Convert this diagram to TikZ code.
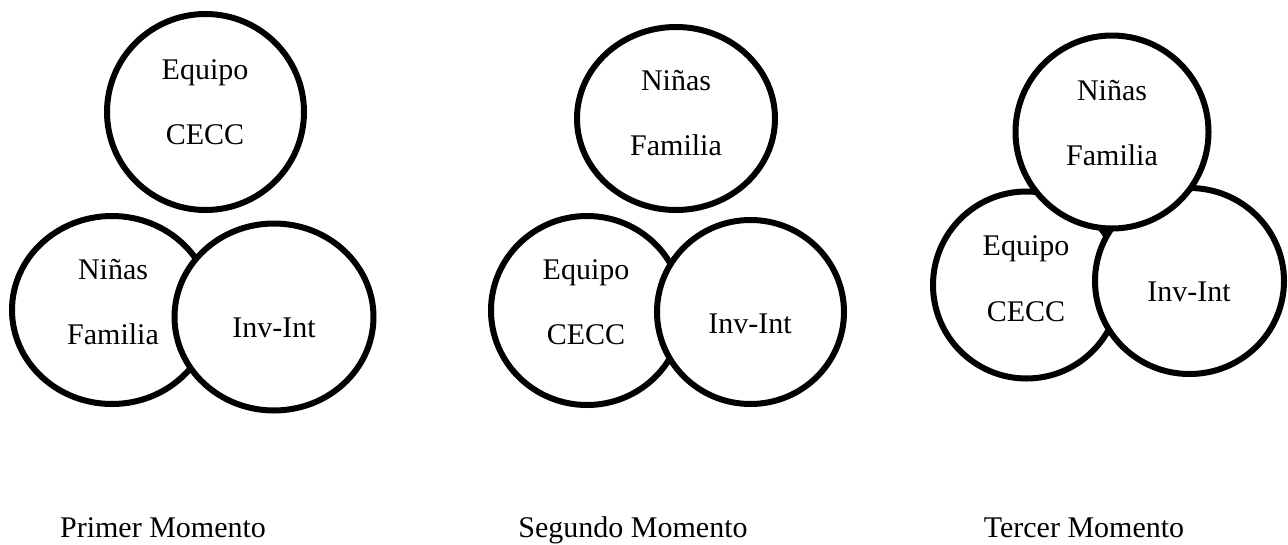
\documentclass[tikz,border=0pt]{standalone}
\usepackage{fontspec}
\setmainfont{Liberation Serif}
\usetikzlibrary{shapes.geometric}
\tikzset{
  ring/.style={shape=ellipse, draw=black, fill=white, line width=6pt, inner sep=0pt, outer sep=0pt},
  lbl/.style={font=\fontsize{30}{36}\selectfont, inner sep=0pt, anchor=base}
}
\begin{document}
\begin{tikzpicture}[x=1pt,y=-1pt]
\useasboundingbox[fill=white] (0,0) rectangle (1288,544);
% ---- Primer momento
\node[ring, minimum width=197pt, minimum height=196pt] (a1) at (205.5,112) {};
\node[ring, minimum width=200pt, minimum height=188pt] (a2) at (112,310) {};
\node[ring, minimum width=199pt, minimum height=187pt] (a3) at (274,317) {};
\node[lbl] (a1t) at (205,79) {Equipo};
\node[lbl] (a1b) at (205,144) {CECC};
\node[lbl] (a2t) at (113,279) {Niñas};
\node[lbl] (a2b) at (113,344) {Familia};
\node[lbl] (a3t) at (274,337) {Inv-Int};
\node[lbl] (m1) at (163,537) {Primer Momento};
% ---- Segundo momento
\node[ring, minimum width=198pt, minimum height=183pt] (b1) at (676,118.5) {};
\node[ring, minimum width=192pt, minimum height=189pt] (b2) at (587,310.5) {};
\node[ring, minimum width=187pt, minimum height=184pt] (b3) at (750.5,312) {};
\node[lbl] (b1t) at (676,90) {Niñas};
\node[lbl] (b1b) at (676,155) {Familia};
\node[lbl] (b2t) at (586,279) {Equipo};
\node[lbl] (b2b) at (586,344) {CECC};
\node[lbl] (b3t) at (750,333) {Inv-Int};
\node[lbl] (m2) at (633,537) {Segundo Momento};
% ---- Tercer momento
\node[ring, minimum width=187pt, minimum height=187pt] (c2) at (1026.5,285) {};
\node[ring, minimum width=189pt, minimum height=186pt] (c3) at (1189.5,281) {};
\node[ring, minimum width=193pt, minimum height=193pt] (c1) at (1112,132) {};
\node[lbl] (c1t) at (1112,100) {Niñas};
\node[lbl] (c1b) at (1112,165) {Familia};
\node[lbl] (c2t) at (1026,255) {Equipo};
\node[lbl] (c2b) at (1026,321) {CECC};
\node[lbl] (c3t) at (1189,301) {Inv-Int};
\node[lbl] (m3) at (1084,537) {Tercer Momento};
\end{tikzpicture}
\end{document}
